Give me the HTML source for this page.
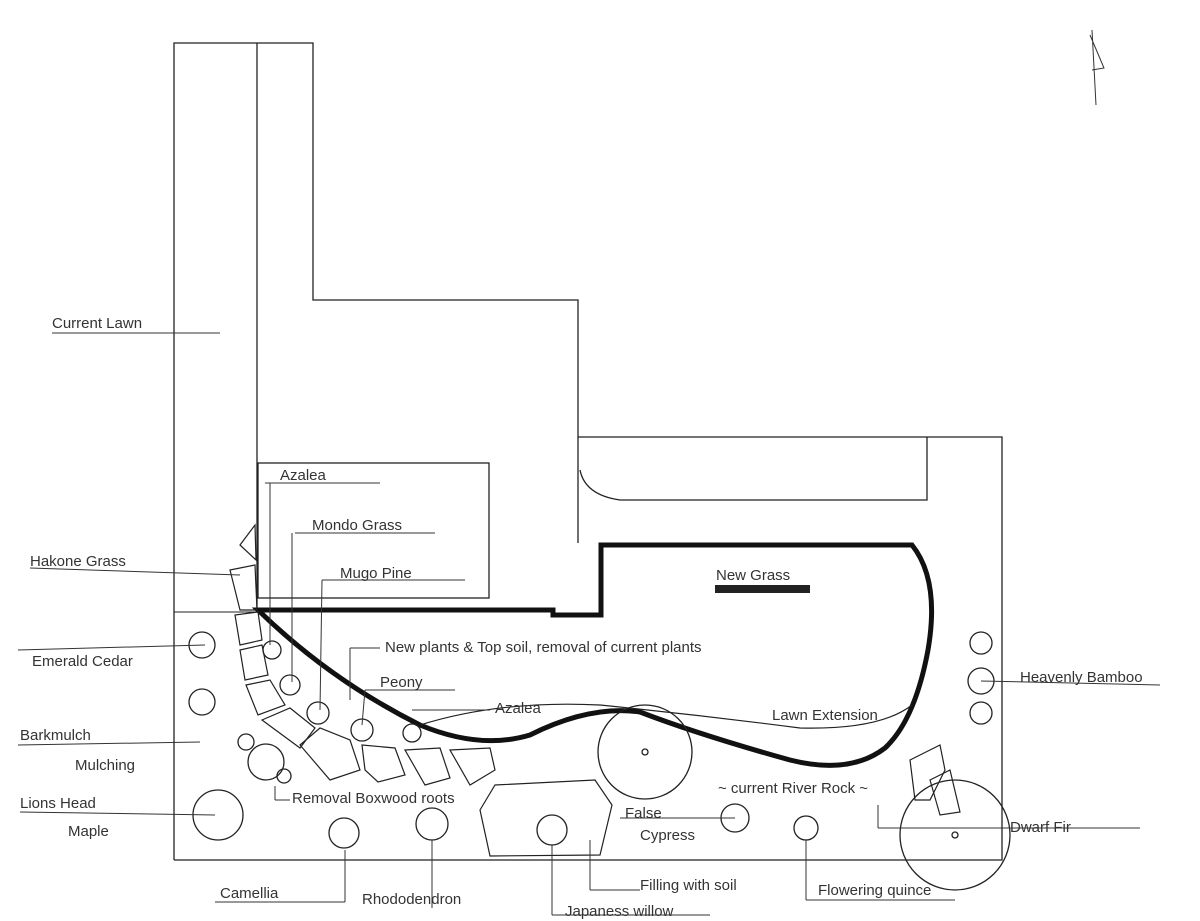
<!DOCTYPE html>
<html><head><meta charset="utf-8"><style>
html,body{margin:0;padding:0;background:#fff;}
svg{display:block}
text{font-family:"Liberation Sans",sans-serif;font-size:15px;fill:#333;}
</style></head><body>
<svg width="1200" height="921" viewBox="0 0 1200 921" xmlns="http://www.w3.org/2000/svg">
<g fill="none" stroke="#222" stroke-width="1.3">
<!-- outline -->
<path d="M174,860 V43 H313 V300 H578 V543"/>
<path d="M578,437 H1002 V860 H174"/>
<line x1="257" y1="43" x2="257" y2="612"/>
<rect x="258" y="463" width="231" height="135"/>
<path d="M927,437 V500 H620 Q585,495 580,470"/>
<line x1="174" y1="612" x2="258" y2="612" stroke-width="1"/>
</g>
<!-- thick boundary -->
<path d="M258,610 H553 V615 H601 V545 H912 Q940,580 928,650 Q915,720 885,748 Q850,775 790,760 Q700,735 640,712 Q590,705 530,735 Q480,750 420,725 Q330,680 258,610 Z" fill="none" stroke="#111" stroke-width="5"/>
<path d="M420,725 Q500,700 600,705 Q700,715 800,728 Q880,730 912,705" fill="none" stroke="#222" stroke-width="1.2"/>
<rect x="715" y="585" width="95" height="8" fill="#222"/>
<!-- stones -->
<g fill="none" stroke="#222" stroke-width="1.2">
<path d="M240,545 L255,525 L256,560 Z"/>
<path d="M230,570 L255,565 L257,610 L240,610 Z"/>
<path d="M235,615 L258,612 L262,640 L240,645 Z"/>
<path d="M240,650 L262,645 L268,675 L245,680 Z"/>
<path d="M246,685 L270,680 L285,705 L258,715 Z"/>
<path d="M262,720 L290,708 L315,728 L300,748 Z"/>
<path d="M300,745 L320,728 L350,740 L360,770 L330,780 Z"/>
<path d="M362,745 L395,748 L405,775 L378,782 L365,770 Z"/>
<path d="M405,750 L440,748 L450,778 L425,785 Z"/>
<path d="M450,750 L490,748 L495,770 L470,785 Z"/>
<path d="M480,810 L495,785 L595,780 L612,805 L600,855 L490,856 Z"/>
<path d="M910,760 L940,745 L945,770 L930,800 L915,800 Z"/>
<path d="M930,780 L950,770 L960,812 L940,815 Z"/>
</g>
<!-- plants -->
<g fill="none" stroke="#222" stroke-width="1.3">
<circle cx="202" cy="645" r="13"/><circle cx="202" cy="702" r="13"/>
<circle cx="218" cy="815" r="25"/>
<circle cx="246" cy="742" r="8"/><circle cx="266" cy="762" r="18"/><circle cx="284" cy="776" r="7"/>
<circle cx="272" cy="650" r="9"/><circle cx="290" cy="685" r="10"/><circle cx="318" cy="713" r="11"/>
<circle cx="362" cy="730" r="11"/><circle cx="412" cy="733" r="9"/>
<circle cx="344" cy="833" r="15"/><circle cx="432" cy="824" r="16"/>
<circle cx="552" cy="830" r="15"/>
<circle cx="645" cy="752" r="47"/><circle cx="645" cy="752" r="3"/>
<circle cx="735" cy="818" r="14"/><circle cx="806" cy="828" r="12"/>
<circle cx="955" cy="835" r="55"/><circle cx="955" cy="835" r="3"/>
<circle cx="981" cy="643" r="11"/><circle cx="981" cy="681" r="13"/><circle cx="981" cy="713" r="11"/>
</g>
<!-- leader lines -->
<g fill="none" stroke="#333" stroke-width="1">
<line x1="52" y1="333" x2="220" y2="333"/>
<line x1="30" y1="568" x2="240" y2="575"/>
<line x1="18" y1="650" x2="205" y2="645"/>
<line x1="18" y1="745" x2="200" y2="742"/>
<line x1="20" y1="812" x2="215" y2="815"/>
<line x1="265" y1="483" x2="380" y2="483"/><line x1="270" y1="483" x2="270" y2="645"/>
<line x1="295" y1="533" x2="435" y2="533"/><line x1="292" y1="533" x2="292" y2="682"/>
<line x1="322" y1="580" x2="465" y2="580"/><line x1="322" y1="580" x2="320" y2="710"/>
<line x1="365" y1="690" x2="455" y2="690"/><line x1="365" y1="690" x2="362" y2="725"/>
<line x1="412" y1="710" x2="490" y2="710"/>
<line x1="350" y1="648" x2="350" y2="700"/><line x1="350" y1="648" x2="380" y2="648"/>
<line x1="275" y1="800" x2="275" y2="786"/><line x1="275" y1="800" x2="290" y2="800"/>
<line x1="215" y1="902" x2="345" y2="902"/><line x1="345" y1="850" x2="345" y2="902"/>
<line x1="432" y1="840" x2="432" y2="908"/>
<line x1="552" y1="845" x2="552" y2="915"/><line x1="552" y1="915" x2="710" y2="915"/>
<line x1="590" y1="840" x2="590" y2="890"/><line x1="590" y1="890" x2="640" y2="890"/>
<line x1="806" y1="840" x2="806" y2="900"/><line x1="806" y1="900" x2="955" y2="900"/>
<line x1="620" y1="818" x2="735" y2="818"/>
<line x1="878" y1="805" x2="878" y2="828"/><line x1="878" y1="828" x2="1140" y2="828"/>
<line x1="981" y1="681" x2="1160" y2="685"/>
</g>
<!-- north arrow -->
<path d="M1092,30 L1096,105 M1090,35 L1104,68 L1092,70" fill="none" stroke="#333" stroke-width="1"/>
<g>
<text x="52" y="328">Current Lawn</text>
<text x="30" y="566">Hakone Grass</text>
<text x="32" y="666">Emerald Cedar</text>
<text x="20" y="740">Barkmulch</text>
<text x="75" y="770">Mulching</text>
<text x="20" y="808">Lions Head</text>
<text x="68" y="836">Maple</text>
<text x="280" y="480">Azalea</text>
<text x="312" y="530">Mondo Grass</text>
<text x="340" y="578">Mugo Pine</text>
<text x="385" y="652">New plants &amp; Top soil, removal of current plants</text>
<text x="380" y="687">Peony</text>
<text x="495" y="713">Azalea</text>
<text x="292" y="803">Removal Boxwood roots</text>
<text x="716" y="580">New Grass</text>
<text x="772" y="720">Lawn Extension</text>
<text x="718" y="793">~ current River Rock ~</text>
<text x="625" y="818">False</text>
<text x="640" y="840">Cypress</text>
<text x="1010" y="832">Dwarf Fir</text>
<text x="1020" y="682">Heavenly Bamboo</text>
<text x="220" y="898">Camellia</text>
<text x="362" y="904">Rhododendron</text>
<text x="640" y="890">Filling with soil</text>
<text x="565" y="916">Japaness willow</text>
<text x="818" y="895">Flowering quince</text>
</g>
</svg>
</body></html>
